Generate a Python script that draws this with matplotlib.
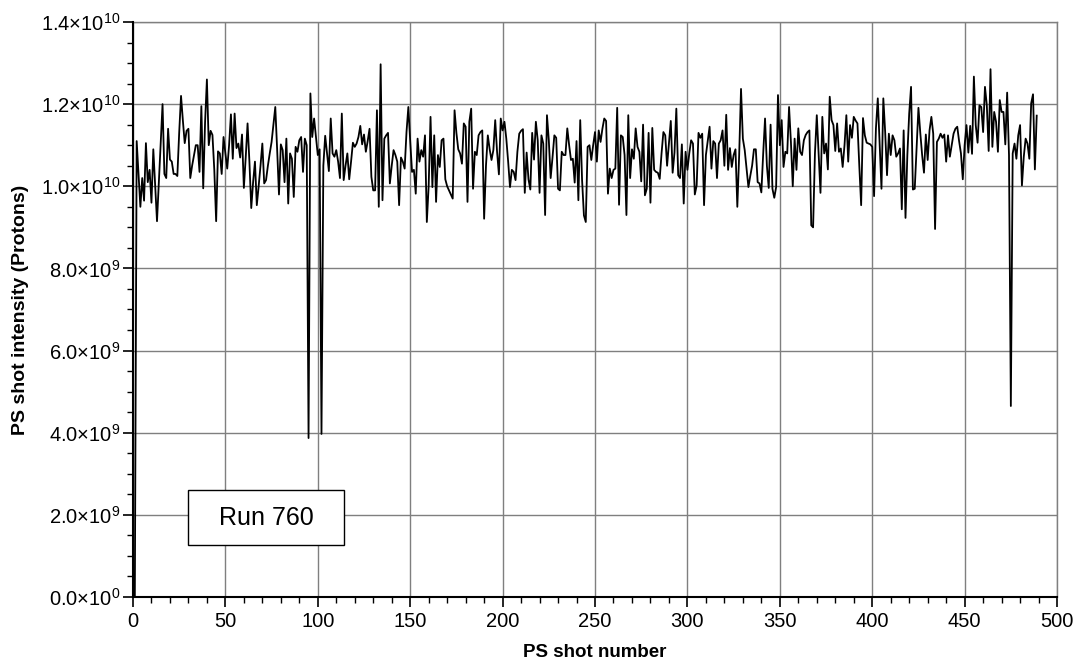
import numpy as np
import matplotlib
matplotlib.use('Agg')
import matplotlib.pyplot as plt
from matplotlib.patches import Rectangle

plt.rcParams['font.family'] = ['Liberation Sans', 'DejaVu Sans']
plt.rcParams['mathtext.fontset'] = 'custom'
plt.rcParams['mathtext.rm'] = 'Liberation Sans'

# PS shot intensity, units of 1e9 protons, shots 1..489
intensity_e9 = [
    0.0,
    11.1, 10.3, 9.5, 10.2, 9.65, 11.05, 10.1, 10.4, 9.6,
    10.9, 10.0, 9.15, 10.1, 11.1, 12.0, 10.3, 10.2, 11.4, 10.65,
    10.6, 10.3, 10.3, 10.25, 11.3, 12.2, 11.6, 11.05, 11.35, 11.4,
    10.2, 10.5, 10.75, 11.0, 11.0, 10.35, 11.95, 9.95, 11.55, 12.6,
    11.0, 11.35, 11.25, 10.4, 9.15, 10.85, 10.8, 10.3, 11.2, 10.8,
    10.43, 11.0, 11.75, 10.67, 11.77, 10.93, 11.04, 10.7, 11.26, 9.96,
    10.7, 11.53, 10.6, 9.47, 10.1, 10.6, 9.54, 10.0, 10.5, 11.04,
    10.07, 10.15, 10.5, 10.8, 11.08, 11.5, 11.93, 10.9, 9.8, 11.02,
    10.88, 10.1, 11.16, 9.58, 10.8, 10.67, 9.74, 10.96, 10.84, 11.12,
    11.2, 10.35, 11.16, 11.0, 3.87, 12.26, 11.2, 11.65, 11.2, 10.76,
    10.9, 3.97, 10.5, 11.23, 10.8, 10.37, 11.65, 10.8, 10.72, 10.88,
    10.6, 10.2, 11.77, 10.15, 10.5, 10.8, 10.17, 10.6, 11.06, 10.96,
    11.04, 11.2, 11.47, 11.02, 11.26, 10.84, 11.1, 11.4, 10.23, 9.9,
    9.9, 11.85, 9.5, 12.97, 9.66, 11.16, 11.24, 11.3, 10.07, 10.5,
    10.88, 10.76, 10.6, 9.54, 10.7, 10.6, 10.43, 11.32, 11.93, 11.1,
    10.35, 10.4, 9.82, 11.16, 10.6, 10.88, 10.72, 11.24, 9.13, 10.02,
    11.69, 9.98, 11.24, 9.62, 10.76, 10.47, 11.12, 11.16, 10.17, 10.0,
    9.9, 9.8, 9.7, 11.85, 11.3, 10.9, 10.8, 10.55, 11.53, 11.45,
    9.62, 11.57, 11.89, 9.94, 10.84, 10.76, 11.24, 11.32, 11.36, 9.21,
    10.5, 11.24, 10.9, 10.64, 10.88, 11.61, 10.84, 10.29, 11.65, 11.36,
    11.57, 11.16, 10.6, 9.98, 10.4, 10.35, 10.15, 10.84, 11.28, 11.35,
    11.39, 9.84, 10.82, 10.17, 9.92, 11.3, 10.65, 11.57, 11.12, 9.84,
    11.24, 11.04, 9.3, 11.73, 11.12, 10.2, 10.7, 11.24, 11.18, 9.94,
    9.9, 10.84, 10.76, 10.76, 11.41, 11.0, 10.64, 10.67, 10.09, 11.1,
    9.66, 11.61, 10.15, 9.29, 9.13, 10.96, 11.0, 10.64, 11.0, 11.32,
    10.6, 11.36, 11.08, 11.4, 11.65, 11.59, 9.82, 10.43, 10.2, 10.4,
    10.43, 11.91, 9.55, 11.24, 11.2, 10.76, 9.3, 11.73, 10.2, 10.9,
    10.67, 11.41, 10.96, 10.84, 10.12, 11.5, 9.78, 9.94, 11.3, 9.6,
    11.42, 10.4, 10.35, 10.33, 10.18, 10.8, 11.32, 11.24, 10.5, 11.04,
    11.59, 10.33, 10.82, 11.89, 10.27, 10.2, 11.02, 9.58, 10.84, 10.4,
    10.8, 11.12, 11.04, 9.8, 10.02, 11.3, 11.18, 11.28, 9.54, 10.76,
    11.1, 11.45, 10.43, 11.1, 11.04, 10.2, 11.04, 11.12, 11.36, 10.5,
    11.74, 10.4, 10.93, 10.47, 10.76, 10.9, 9.5, 10.76, 12.37, 11.16,
    10.88, 10.43, 9.98, 10.25, 10.5, 10.9, 10.9, 10.1, 10.07, 9.85,
    10.8, 11.65, 10.5, 9.96, 11.5, 9.94, 9.72, 9.98, 12.22, 11.0,
    11.61, 10.47, 10.84, 10.8, 11.93, 11.08, 10.0, 11.16, 10.4, 11.41,
    10.84, 10.76, 11.12, 11.25, 11.32, 11.36, 9.05, 9.0, 10.8, 11.73,
    10.76, 9.84, 11.69, 10.8, 11.04, 10.41, 12.18, 11.61, 11.49, 10.86,
    11.53, 10.84, 10.92, 10.47, 11.0, 11.73, 10.6, 11.49, 11.18, 11.69,
    11.6, 11.53, 10.5, 9.54, 11.66, 11.24, 11.06, 11.04, 11.02, 10.96,
    9.76, 11.41, 12.14, 11.06, 9.94, 12.14, 11.32, 10.27, 11.28, 10.76,
    11.24, 11.12, 10.72, 10.8, 10.92, 9.44, 11.36, 9.23, 10.76, 11.77,
    12.42, 9.92, 9.94, 10.9, 11.91, 11.3, 10.76, 10.33, 11.26, 10.64,
    11.36, 11.69, 11.28, 8.96, 11.08, 11.16, 11.28, 11.18, 11.26, 10.6,
    11.24, 10.72, 11.0, 11.28, 11.4, 11.45, 11.1, 10.8, 10.17, 11.0,
    11.49, 10.82, 11.47, 10.79, 12.67, 11.49, 11.06, 11.97, 11.93, 11.32,
    12.42, 11.97, 10.86, 12.85, 10.96, 11.81, 11.57, 10.84, 12.1, 11.81,
    11.81, 11.02, 12.28, 10.76, 4.65, 10.8, 11.04, 10.67, 11.24, 11.49,
    10.02, 10.72, 11.16, 11.04, 10.67, 12.02, 12.24, 10.41, 11.72,
]
shots = np.arange(1, len(intensity_e9) + 1)
intensity = np.array(intensity_e9) * 1e9

y_ticks = [0, 2e9, 4e9, 6e9, 8e9, 1.0e10, 1.2e10, 1.4e10]
y_labels = [r'$\mathregular{0.0{\times}10^{0}}$', r'$\mathregular{2.0{\times}10^{9}}$',
            r'$\mathregular{4.0{\times}10^{9}}$', r'$\mathregular{6.0{\times}10^{9}}$',
            r'$\mathregular{8.0{\times}10^{9}}$', r'$\mathregular{1.0{\times}10^{10}}$',
            r'$\mathregular{1.2{\times}10^{10}}$', r'$\mathregular{1.4{\times}10^{10}}$']
x_ticks = [0, 50, 100, 150, 200, 250, 300, 350, 400, 450, 500]

fig = plt.figure(figsize=(10.75, 6.64), dpi=100)
ax = fig.add_axes([0.1237, 0.1009, 0.8596, 0.866])

ax.plot(shots, intensity, color='black', lw=1.3, zorder=3)

ax.set_xlim(0, 500)
ax.set_ylim(0, 1.4e10)
ax.set_xticks(x_ticks)
ax.set_xticks(np.arange(0, 501, 10), minor=True)
ax.set_yticks(y_ticks)
ax.set_yticklabels(y_labels)
ax.set_yticks(np.arange(0, 1.41e10, 5e8), minor=True)
ax.grid(True, which='major', color='#7f7f7f', lw=1.0, zorder=1)

for s in ['top', 'right']:
    ax.spines[s].set_color('#7f7f7f')
    ax.spines[s].set_linewidth(1.0)
for s in ['left', 'bottom']:
    ax.spines[s].set_color('black')
    ax.spines[s].set_linewidth(1.5)
    ax.spines[s].set_zorder(4)

ax.tick_params(axis='both', which='major', direction='out', length=7, width=1.2, labelsize=14.5)
ax.tick_params(axis='y', which='major', pad=2)
ax.tick_params(axis='both', which='minor', direction='out', length=4, width=1.0)
ax.tick_params(top=False, right=False, which='both')

ax.set_xlabel('PS shot number', fontsize=13.5, fontweight='bold', labelpad=10)
ax.set_ylabel('PS shot intensity (Protons)', fontsize=14, fontweight='bold', labelpad=9)

ax.add_patch(Rectangle((0.0595, 0.0904), 0.1688, 0.0957, transform=ax.transAxes,
                       facecolor='white', edgecolor='black', lw=1.0, zorder=5))
ax.text(0.1439, 0.1382, 'Run 760', transform=ax.transAxes, ha='center', va='center',
        fontsize=18, zorder=6)

fig.savefig('out.png', dpi=100)
